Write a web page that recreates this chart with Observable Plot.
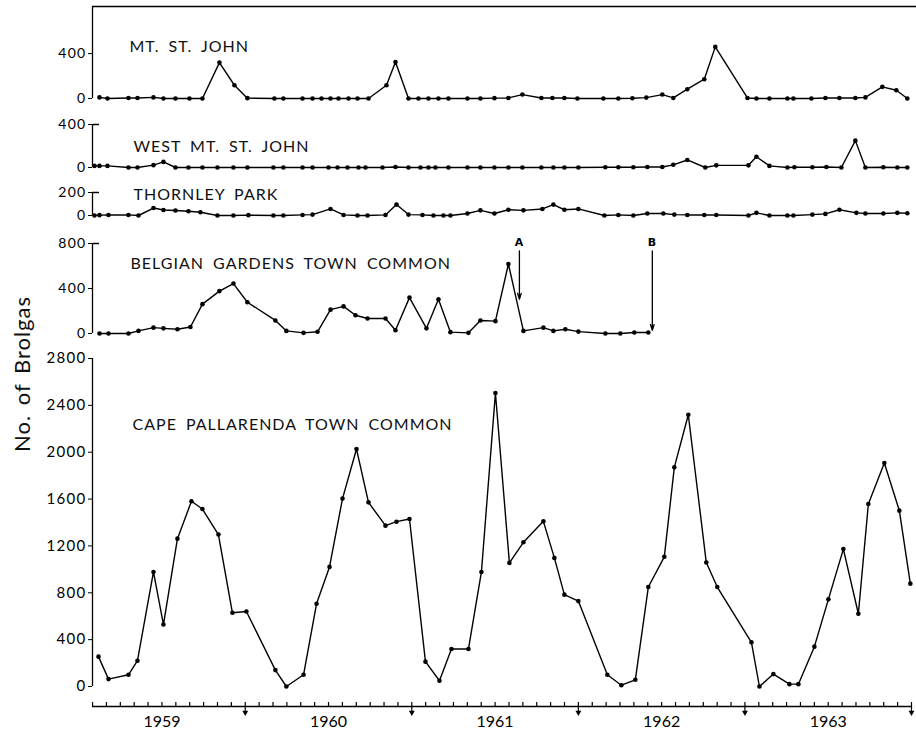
<!DOCTYPE html>
<html><head><meta charset="utf-8">
<script src="https://cdn.jsdelivr.net/npm/d3@7"></script>
<script src="https://cdn.jsdelivr.net/npm/@observablehq/plot@0.6"></script>
<style>
html,body{margin:0;padding:0;background:#fff;}
#chart{position:relative;width:916px;height:734px;overflow:hidden;background:#fff;}
#ylab{position:absolute;left:21px;top:374px;transform:translate(-50%,-50%) rotate(-90deg);font:22px Lato;letter-spacing:1px;word-spacing:3px;white-space:nowrap;color:#111;}
g[aria-label="text"] text{letter-spacing:1px;word-spacing:4px;}
g[aria-label="y-axis tick label"] text{letter-spacing:1.3px;}
</style></head><body>
<div id="chart"><div id="ylab">No. of Brolgas</div></div>
<script>
// ---------- data (x = decimal year of survey, y = number of brolgas) ----------
const panelNames = ["MT. ST. JOHN", "WEST MT. ST. JOHN", "THORNLEY PARK", "BELGIAN GARDENS TOWN COMMON", "CAPE PALLARENDA TOWN COMMON"];

const mtStJohnYears = [1958.625,1958.673,1958.799,1958.853,1958.949,1959.009,1959.081,1959.165,1959.243,1959.345,1959.435,1959.513,1959.675,1959.729,1959.844,1959.904,1959.958,1960.012,1960.060,1960.120,1960.174,1960.240,1960.348,1960.402,1960.480,1960.540,1960.600,1960.660,1960.720,1960.834,1960.912,1960.996,1961.080,1961.164,1961.278,1961.344,1961.416,1961.494,1961.650,1961.740,1961.824,1961.908,1962.004,1962.070,1962.154,1962.256,1962.322,1962.515,1962.569,1962.647,1962.755,1962.791,1962.899,1962.983,1963.067,1963.163,1963.223,1963.325,1963.409,1963.475];
const mtStJohnCounts = [10,0,5,5,10,0,0,0,0,320,118,3,0,0,0,0,0,0,0,0,0,0,118,325,0,0,0,0,0,0,0,3,5,35,5,5,5,0,0,0,2,8,35,5,83,172,460,5,0,0,0,0,0,5,5,5,10,104,74,0];

const westYears = [1958.595,1958.625,1958.673,1958.799,1958.853,1958.949,1959.009,1959.081,1959.159,1959.243,1959.333,1959.429,1959.513,1959.669,1959.729,1959.844,1959.904,1960.000,1960.054,1960.114,1960.180,1960.222,1960.324,1960.402,1960.480,1960.552,1960.600,1960.642,1960.720,1960.834,1960.912,1960.996,1961.080,1961.164,1961.278,1961.350,1961.416,1961.500,1961.662,1961.740,1961.830,1961.914,1962.004,1962.070,1962.154,1962.262,1962.328,1962.521,1962.569,1962.647,1962.755,1962.797,1962.905,1962.989,1963.079,1963.163,1963.223,1963.331,1963.415,1963.475];
const westCounts = [15,15,15,0,0,22,52,0,0,0,0,0,0,0,0,0,0,0,0,0,0,0,0,5,0,0,0,0,0,0,0,0,0,0,0,0,0,0,3,3,3,5,5,25,70,0,20,20,100,15,0,3,3,5,0,250,0,3,0,0];

const thornleyYears = [1958.595,1958.625,1958.679,1958.799,1958.859,1958.949,1959.009,1959.081,1959.159,1959.231,1959.333,1959.429,1959.519,1959.669,1959.729,1959.844,1959.904,1960.012,1960.090,1960.174,1960.234,1960.342,1960.408,1960.480,1960.564,1960.630,1960.690,1960.732,1960.834,1960.912,1960.996,1961.080,1961.170,1961.284,1961.350,1961.416,1961.500,1961.656,1961.740,1961.830,1961.914,1962.010,1962.076,1962.154,1962.256,1962.328,1962.521,1962.569,1962.647,1962.755,1962.791,1962.905,1962.983,1963.067,1963.169,1963.223,1963.331,1963.415,1963.475];
const thornleyCounts = [0,3,5,5,0,65,48,43,37,28,0,0,3,0,0,5,8,57,5,0,0,5,95,8,5,0,0,0,17,45,17,50,45,57,95,50,57,0,5,0,17,17,8,5,5,5,0,23,0,0,0,8,14,50,23,17,17,23,20];

const belgianYears = [1958.625,1958.679,1958.799,1958.859,1958.949,1959.009,1959.093,1959.171,1959.243,1959.345,1959.429,1959.513,1959.681,1959.747,1959.850,1959.934,1960.012,1960.090,1960.162,1960.234,1960.342,1960.402,1960.486,1960.588,1960.660,1960.732,1960.840,1960.912,1961.002,1961.080,1961.170,1961.290,1961.350,1961.422,1961.500,1961.662,1961.752,1961.836,1961.920];
const belgianCounts = [0,0,0,23,52,46,38,58,261,377,444,278,116,23,6,15,212,241,162,133,133,29,319,46,305,12,6,116,110,618,23,52,23,38,17,0,0,9,9];

const capeYears = [1958.619,1958.679,1958.799,1958.853,1958.949,1959.009,1959.093,1959.177,1959.243,1959.339,1959.423,1959.507,1959.681,1959.747,1959.850,1959.928,1960.006,1960.084,1960.168,1960.240,1960.342,1960.408,1960.486,1960.582,1960.666,1960.738,1960.840,1960.918,1961.002,1961.086,1961.170,1961.290,1961.356,1961.416,1961.500,1961.674,1961.758,1961.842,1961.920,1962.016,1962.076,1962.160,1962.268,1962.334,1962.539,1962.587,1962.671,1962.767,1962.821,1962.917,1963.001,1963.091,1963.181,1963.241,1963.337,1963.427,1963.493];
const capeCounts = [255,63,100,220,978,529,1262,1581,1515,1297,629,640,140,0,100,706,1021,1604,2027,1572,1373,1407,1430,212,49,320,320,978,2505,1055,1231,1410,1098,784,729,100,11,57,849,1107,1871,2320,1058,849,377,0,106,20,20,340,744,1173,621,1558,1908,1501,878];

// y-axis tick values per panel
const mtStJohnTicks = [0, 400];
const westTicks = [0, 400];
const thornleyTicks = [0, 200];
const belgianTicks = [0, 400, 800];
const capeTicks = [0, 400, 800, 1200, 1600, 2000, 2400, 2800];

// x axis: year labels (at 1 January), monthly ticks, arrow ticks at 1 July
const yearLabels = [1959, 1960, 1961, 1962, 1963];
const julyTicks = [1959.5, 1960.5, 1961.5, 1962.5, 1963.5];
const monthTicks = d3.range(0, 60).map(i => 1958 + (7 + i) / 12); // Aug 1958 ... Jul 1963

// arrows A and B on the Belgian Gardens panel
const noteLabels = ["A", "B"];
const noteYears = [1961.146, 1961.944];
const noteFrom = [735, 735];
const noteTo = [305, 28];
const noteLabelAt = [812, 812];

// ---------- layout ----------
const W = 916, H = 734, ML = 92, MR = 5;
const xDomain = [1958.583, 1963.5];
const chart = document.getElementById("chart");
const baseStyle = {position: "absolute", left: "0px", top: "0px", background: "transparent", fontFamily: "Lato", overflow: "visible", color: "black"};
const plainStroke = {draw(context, l) { context.moveTo(0, 0); context.lineTo(0, -l); }};

function panel({name, years, counts, ticks, yMax, top, bottom, titleDx, titleDy, bracket, labelSize = 14, extra = []}) {
  const data = years.map((x, i) => ({x, y: counts[i]}));
  const marks = [
    Plot.ruleX([xDomain[0]], {y1: 0, y2: yMax, strokeWidth: 1.3}),
    Plot.axisY({ticks, tickSize: 4, tickPadding: 2, tickFormat: d => String(d), fontSize: labelSize, label: null}),
  ];
  if (bracket) marks.push(Plot.vector([yMax], {x: () => xDomain[0], y: d => d, rotate: 90, length: 6, anchor: "start", shape: plainStroke, strokeWidth: 1.3}));
  marks.push(
    Plot.line(data, {x: "x", y: "y", stroke: "black", strokeWidth: 1.4}),
    Plot.dot(data, {x: "x", y: "y", r: 2.3, fill: "black"}),
    Plot.text([name], {frameAnchor: "top-left", lineAnchor: "middle", dx: titleDx, dy: titleDy, textAnchor: "start", fontSize: 16, fill: "#111"}),
    ...extra
  );
  const svg = Plot.plot({
    width: W, height: H, marginLeft: ML, marginRight: MR, marginTop: top, marginBottom: H - bottom,
    style: baseStyle,
    x: {domain: xDomain, axis: null},
    y: {domain: [0, yMax], axis: null},
    marks
  });
  chart.appendChild(svg);
}

panel({name: panelNames[0], years: mtStJohnYears, counts: mtStJohnCounts, ticks: mtStJohnTicks, yMax: 820, top: 6, bottom: 98, titleDx: 37, titleDy: 40, bracket: false,
  extra: [Plot.ruleY([820], {strokeWidth: 1.3, insetRight: -5})]});
panel({name: panelNames[1], years: westYears, counts: westCounts, ticks: westTicks, yMax: 400, top: 124, bottom: 167, titleDx: 41, titleDy: 22, bracket: true});
panel({name: panelNames[2], years: thornleyYears, counts: thornleyCounts, ticks: thornleyTicks, yMax: 200, top: 192, bottom: 215, titleDx: 41, titleDy: 2, bracket: true});

const notes = noteLabels.map((label, i) => ({label, x: noteYears[i], from: noteFrom[i], to: noteTo[i], at: noteLabelAt[i]}));
panel({name: panelNames[3], years: belgianYears, counts: belgianCounts, ticks: belgianTicks, yMax: 800, top: 243, bottom: 333, titleDx: 38, titleDy: 20, bracket: true,
  extra: [
    Plot.arrow(notes, {x1: "x", x2: "x", y1: "from", y2: "to", strokeWidth: 1.3, headLength: 7, headAngle: 35}),
    Plot.text(notes, {x: "x", y: "at", text: "label", fontSize: 11, fontWeight: "bold", fontFamily: "DejaVu Sans"})
  ]});
panel({name: panelNames[4], years: capeYears, counts: capeCounts, ticks: capeTicks, yMax: 2800, top: 358, bottom: 686, titleDx: 40, titleDy: 66, bracket: false, labelSize: 15});

// x axis
chart.appendChild(Plot.plot({
  width: W, height: H, marginLeft: ML, marginRight: MR, marginTop: 702, marginBottom: H - 706,
  style: baseStyle,
  x: {domain: xDomain, axis: null},
  y: {domain: [0, 1], axis: null},
  marks: [
    Plot.ruleY([0], {strokeWidth: 1.4}),
    Plot.tickX(monthTicks, {x: d => d, strokeWidth: 1.2}),
    Plot.axisX({ticks: julyTicks, tickSize: 6, tickFormat: () => "", label: null, strokeWidth: 1.2}),
    Plot.dot(julyTicks, {x: d => d, frameAnchor: "bottom", dy: 6, symbol: "triangle", rotate: 180, r: 2.2, fill: "black"}),
    Plot.axisX({ticks: yearLabels, tickSize: 0, tickPadding: 9, tickFormat: d => String(d), fontSize: 16, label: null})
  ]
}));
// keep the y label on top
chart.appendChild(document.getElementById("ylab"));
</script>
</body></html>
